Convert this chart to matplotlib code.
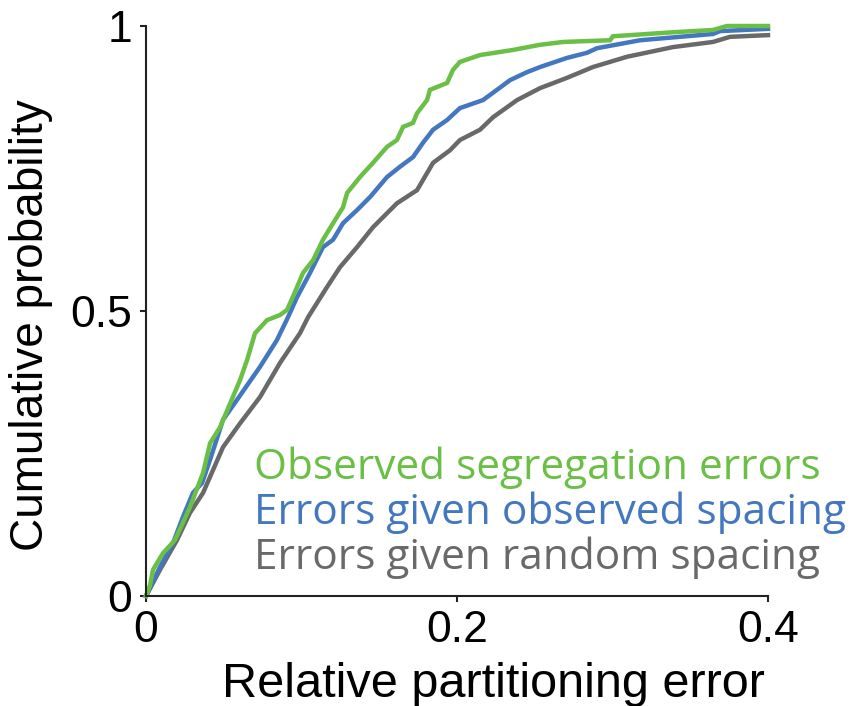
import matplotlib.pyplot as plt

# cumulative distributions
obs_x = [0.0, 0.0026, 0.0045, 0.0109, 0.0186, 0.0283, 0.0367, 0.0412, 0.0476, 0.0605,
         0.0650, 0.0701, 0.0778, 0.0862, 0.0907, 0.0945, 0.1010, 0.1074, 0.1138, 0.1203,
         0.1267, 0.1293, 0.1376, 0.1460, 0.1550, 0.1614, 0.1653, 0.1717, 0.1743, 0.1807,
         0.1826, 0.1936, 0.1974, 0.2019, 0.2148, 0.2360, 0.2534, 0.2682, 0.2984, 0.3003,
         0.3389, 0.3646, 0.3736, 0.4]
obs_y = [0.0, 0.019, 0.046, 0.075, 0.098, 0.156, 0.216, 0.268, 0.296, 0.379,
         0.414, 0.461, 0.484, 0.493, 0.502, 0.525, 0.567, 0.589, 0.625, 0.654,
         0.682, 0.707, 0.735, 0.760, 0.788, 0.800, 0.823, 0.830, 0.847, 0.870,
         0.888, 0.900, 0.923, 0.937, 0.949, 0.958, 0.967, 0.972, 0.975, 0.982,
         0.989, 0.993, 1.0, 1.0]

sim_obs_x = [0.0, 0.0090, 0.0174, 0.0238, 0.0302, 0.0360, 0.0412, 0.0495, 0.0585, 0.0733,
             0.0842, 0.0913, 0.0971, 0.1055, 0.1138, 0.1203, 0.1267, 0.1357, 0.1441, 0.1550,
             0.1633, 0.1717, 0.1781, 0.1846, 0.1936, 0.2019, 0.2167, 0.2257, 0.2341, 0.2450,
             0.2534, 0.2707, 0.2836, 0.2900, 0.3177, 0.3646, 0.3691, 0.4]
sim_obs_y = [0.0, 0.051, 0.093, 0.139, 0.181, 0.198, 0.239, 0.309, 0.344, 0.402,
             0.449, 0.489, 0.524, 0.567, 0.612, 0.625, 0.654, 0.677, 0.700, 0.735,
             0.753, 0.770, 0.795, 0.818, 0.835, 0.856, 0.870, 0.888, 0.905, 0.919,
             0.928, 0.944, 0.953, 0.961, 0.975, 0.986, 0.991, 0.995]

sim_rand_x = [0.0, 0.0090, 0.0199, 0.0283, 0.0367, 0.0495, 0.0605, 0.0733, 0.0862, 0.0990,
              0.1042, 0.1164, 0.1248, 0.1357, 0.1460, 0.1614, 0.1743, 0.1846, 0.1955, 0.2019,
              0.2148, 0.2232, 0.2386, 0.2534, 0.2707, 0.2874, 0.3093, 0.3389, 0.3646, 0.3756,
              0.4]
sim_rand_y = [0.0, 0.046, 0.098, 0.146, 0.181, 0.261, 0.303, 0.349, 0.409, 0.461,
              0.489, 0.542, 0.577, 0.612, 0.647, 0.689, 0.712, 0.760, 0.782, 0.800,
              0.818, 0.840, 0.870, 0.891, 0.909, 0.928, 0.946, 0.963, 0.972, 0.981,
              0.984]

labels = ["Observed segregation errors",
          "Errors given observed spacing",
          "Errors given random spacing"]
colors = ["#6abf45", "#4377bf", "#696969"]

plt.rcParams["font.family"] = ["Liberation Sans", "DejaVu Sans"]

fig = plt.figure(figsize=(8.56, 7.06), dpi=100)
ax = fig.add_axes([146 / 856, 1 - 596 / 706, 622 / 856, 570 / 706])

series = [(obs_x, obs_y), (sim_obs_x, sim_obs_y), (sim_rand_x, sim_rand_y)]
# draw gray first so green ends up on top
for (xs, ys), c in reversed(list(zip(series, colors))):
    ax.plot(xs, ys, color=c, lw=3.2, clip_on=False, solid_joinstyle="miter")

ax.set_xlim(0, 0.4)
ax.set_ylim(0, 1)
ax.set_xticks([0, 0.2, 0.4])
ax.set_xticklabels(["0", "0.2", "0.4"])
ax.set_yticks([0, 0.5, 1])
ax.set_yticklabels(["0", "0.5", "1"])
ax.tick_params(labelsize=32, width=1.5, length=4, color="#222222", pad=6)
for side in ["top", "right"]:
    ax.spines[side].set_visible(False)
for side in ["left", "bottom"]:
    ax.spines[side].set_linewidth(1.5)
    ax.spines[side].set_color("#222222")

ax.set_xlabel("Relative partitioning error", fontsize=35)
ax.xaxis.set_label_coords(0.558, -0.115, transform=ax.transAxes)
ax.set_ylabel("Cumulative probability", fontsize=33)
ax.yaxis.set_label_coords(-0.15, 0.475, transform=ax.transAxes)

for i, (lab, c) in enumerate(zip(labels, colors)):
    ax.text(0.173, 0.205 - i * 0.079, lab, color=c, fontsize=30.5,
            family=["Open Sans", "DejaVu Sans"], transform=ax.transAxes,
            ha="left", va="baseline")

fig.savefig("out.png", dpi=100)
